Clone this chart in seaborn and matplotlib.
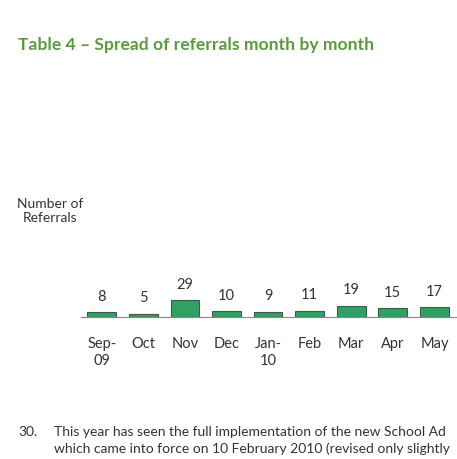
import numpy as np
import matplotlib
matplotlib.use("Agg")
import matplotlib.pyplot as plt
import seaborn as sns
import pandas as pd

months = ["Sep-\n09", "Oct", "Nov", "Dec", "Jan-\n10", "Feb", "Mar", "Apr", "May"]
referrals = [8, 5, 29, 10, 9, 11, 19, 15, 17]

title_text = "Table 4 \u2013 Spread of referrals month by month"
ylabel_text = "Number of\nReferrals"
para_num = "30."
para_lines = ["This year has seen the full implementation of the new School Ad",
              "which came into force on 10 February 2010 (revised only slightly"]

sns.set_style("white")
plt.rcParams["font.family"] = ["Lato", "DejaVu Sans"]

W, H = 457, 460
fig = plt.figure(figsize=(W / 100, H / 100), dpi=100)

# axes placed in pixel terms: axis line at y=318, from x=81 to x=456
ax_left, ax_right = 81, 456
ax_bottom, ax_top = 318, 218
ax = fig.add_axes([ax_left / W, 1 - ax_bottom / H,
                   (ax_right - ax_left) / W, (ax_bottom - ax_top) / H])

df = pd.DataFrame({"month": months, "referrals": referrals})
sns.barplot(data=df, x="month", y="referrals", color="#32a064",
            saturation=1, width=0.69, edgecolor="#3d5a47", linewidth=0.8, ax=ax)

ax.set_xlim(-0.5, 8.52)
ax.set_ylim(0, 100 / 0.575)

for i, v in enumerate(referrals):
    ax.annotate(str(v), (i, v), xytext=(0, 7), textcoords="offset points",
                ha="center", va="bottom", fontsize=10.5, color="#333333")

for s in ["top", "right", "left"]:
    ax.spines[s].set_visible(False)
ax.spines["bottom"].set_color("#888888")
ax.spines["bottom"].set_linewidth(0.8)
ax.set_yticks([])
ax.set_xticks(range(len(months)))
ax.set_xticklabels(months, fontsize=10.5, color="#333333", linespacing=1.2)
ax.set_xticks(np.arange(-0.5, 9, 1), minor=True)
ax.tick_params(axis="x", which="major", length=0, pad=14)
ax.tick_params(axis="x", which="minor", length=3, color="#888888", width=0.8)
ax.set_xlabel("")
ax.set_ylabel("")

fig.text(18 / W, 1 - 45 / H, title_text, fontsize=12.6, fontweight="bold",
         color="#5b9b3c", ha="left", va="center")
fig.text(50 / W, 1 - 211 / H, ylabel_text, fontsize=10, color="#333333",
         ha="center", va="center", linespacing=1.2)
fig.text(18 / W, 1 - 432 / H, para_num, fontsize=10, color="#333333",
         ha="left", va="center")
for k, line in enumerate(para_lines):
    fig.text(54 / W, 1 - (432 + 17 * k) / H, line, fontsize=10,
             color="#333333", ha="left", va="center")

fig.savefig("out.png", dpi=100)
